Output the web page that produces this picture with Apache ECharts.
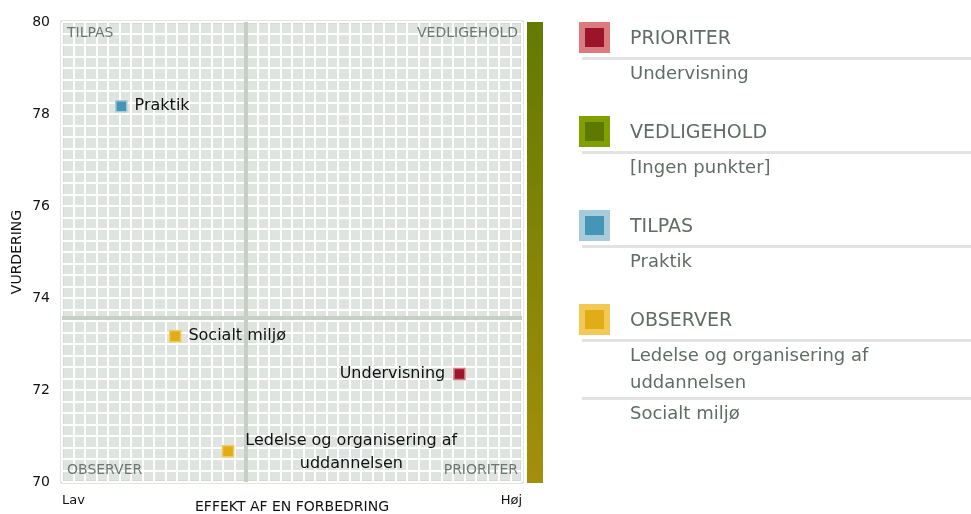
<!DOCTYPE html>
<html>
<head>
<meta charset="utf-8">
<script src="https://cdn.jsdelivr.net/npm/echarts@6/dist/echarts.min.js"></script>
<style>
html,body{margin:0;padding:0;background:#fff;}
#main{width:971px;height:514px;}
</style>
</head>
<body>
<div id="main"></div>
<script>
// ---- data ----
const quadrants = ['PRIORITER', 'VEDLIGEHOLD', 'TILPAS', 'OBSERVER'];
const itemNames = ['Undervisning', 'Praktik', 'Ledelse og organisering af uddannelsen', 'Socialt miljø'];
const effekt = [86.4, 12.9, 36.1, 24.6];
const vurdering = [72.35, 78.17, 70.67, 73.17];
const itemQuadrant = ['PRIORITER', 'TILPAS', 'OBSERVER', 'OBSERVER'];
const effektSplit = [40];
const vurderingSplit = [73.57];
const yTickLabels = [70, 72, 74, 76, 78, 80];
const xTickLabels = ['Lav', 'Høj'];
const emptyText = '[Ingen punkter]';

// ---- styles ----
const FONT = 'DejaVu Sans';
const qColors = {
  PRIORITER: { inner: '#9c1429', outer: '#da7b7d' },
  VEDLIGEHOLD: { inner: '#5e7800', outer: '#7fa000' },
  TILPAS: { inner: '#4596b6', outer: '#a6cbda' },
  OBSERVER: { inner: '#e0ac17', outer: '#f2c955' }
};
const labelStyle = {
  'Undervisning': { position: 'left', distance: 8 },
  'Praktik': { position: 'right', distance: 7 },
  'Socialt miljø': { position: 'right', distance: 7 },
  'Ledelse og organisering af uddannelsen': { position: 'right', distance: 0, align: 'center', offset: [117, 1], wrap: 'Ledelse og organisering af\nuddannelsen' }
};

const chart = echarts.init(document.getElementById('main'), null, { renderer: 'canvas' });

const series = quadrants.map(function (q, qi) {
  const data = [];
  itemNames.forEach(function (n, i) {
    if (itemQuadrant[i] !== q) return;
    const ls = labelStyle[n] || { position: 'right' };
    data.push({
      name: n,
      value: [effekt[i], vurdering[i]],
      label: {
        show: true,
        position: ls.position,
        distance: ls.distance,
        align: ls.align,
        offset: ls.offset,
        formatter: ls.wrap || n,
        color: '#111',
        fontFamily: FONT,
        fontSize: 16,
        lineHeight: 23
      }
    });
  });
  const s = {
    type: 'scatter',
    name: q,
    symbol: 'rect',
    symbolSize: 11,
    itemStyle: { color: qColors[q].inner, borderColor: qColors[q].outer, borderWidth: 1.5, opacity: 1 },
    data: data,
    z: 5
  };
  if (qi === 0) {
    s.markLine = {
      silent: true,
      symbol: 'none',
      label: { show: false },
      emphasis: { disabled: true },
      lineStyle: { color: '#c5cfc6', width: 4, type: 'solid', opacity: 1 },
      data: effektSplit.map(v => ({ xAxis: v })).concat(vurderingSplit.map(v => ({ yAxis: v }))),
      z: 2
    };
  }
  return s;
});

// legend panel built from the arrays
const graphics = [];
const qlabelStyle = { fill: '#6b7a71', fontFamily: FONT, fontSize: 14 };
graphics.push({ type: 'text', left: 67, top: 26, style: Object.assign({ text: 'TILPAS' }, qlabelStyle), z: 10 });
graphics.push({ type: 'text', right: 971 - 518, top: 26, style: Object.assign({ text: 'VEDLIGEHOLD' }, qlabelStyle), z: 10 });
graphics.push({ type: 'text', left: 67, top: 463, style: Object.assign({ text: 'OBSERVER' }, qlabelStyle), z: 10 });
graphics.push({ type: 'text', right: 971 - 518, top: 463, style: Object.assign({ text: 'PRIORITER' }, qlabelStyle), z: 10 });
// gradient bar
graphics.push({
  type: 'rect', left: 527, top: 22, shape: { width: 16, height: 461 },
  style: { fill: new echarts.graphic.LinearGradient(0, 0, 0, 1, [{ offset: 0, color: '#637a00' }, { offset: 1, color: '#a48f0c' }]) }
});

let legTop = 22;
const legTextColor = '#5f6d65';
quadrants.forEach(function (q) {
  graphics.push({ type: 'rect', left: 579, top: legTop, shape: { width: 31, height: 31 }, style: { fill: qColors[q].outer } });
  graphics.push({ type: 'rect', left: 585, top: legTop + 6, shape: { width: 19, height: 19 }, style: { fill: qColors[q].inner } });
  graphics.push({ type: 'text', left: 630, top: legTop + 8, style: { text: q, fill: legTextColor, fontFamily: FONT, fontSize: 19 } });
  graphics.push({ type: 'rect', left: 582, top: legTop + 35, shape: { width: 389, height: 3 }, style: { fill: '#e3e3e3' } });
  let names = itemNames.filter((n, i) => itemQuadrant[i] === q);
  if (names.length === 0) names = [emptyText];
  let cy = legTop + 53;
  names.forEach(function (n, k) {
    const lines = n === 'Ledelse og organisering af uddannelsen' ? ['Ledelse og organisering af', 'uddannelsen'] : [n];
    lines.forEach(function (ln, li) {
      graphics.push({ type: 'text', left: 630, top: cy + li * 27 - 10, style: { text: ln, fill: legTextColor, fontFamily: FONT, fontSize: 18 } });
    });
    const lastC = cy + (lines.length - 1) * 27;
    if (k < names.length - 1) {
      graphics.push({ type: 'rect', left: 582, top: lastC + 13, shape: { width: 389, height: 3 }, style: { fill: '#e3e3e3' } });
    }
    cy = lastC + 31;
  });
  legTop = cy - 31 + 41;
});

const option = {
  backgroundColor: '#fff',
  animation: false,
  textStyle: { fontFamily: FONT },
  grid: {
    left: 62, top: 22, width: 460, height: 460,
    outerBoundsMode: 'none',
    show: true, backgroundColor: '#dfe4e1', borderColor: '#c5cfc6', borderWidth: 3, containLabel: false
  },
  xAxis: {
    type: 'value', min: 0, max: 100, interval: 2.5,
    name: 'EFFEKT AF EN FORBEDRING', nameLocation: 'middle', nameGap: 18, nameMoveOverlap: false,
    nameTextStyle: { color: '#111', fontFamily: FONT, fontSize: 14 },
    axisLine: { show: false }, axisTick: { show: false },
    axisLabel: {
      color: '#111', fontFamily: FONT, fontSize: 13, margin: 12,
      showMinLabel: true, showMaxLabel: true,
      alignMinLabel: 'left', alignMaxLabel: 'right',
      formatter: function (v) { return v === 0 ? xTickLabels[0] : (v === 100 ? xTickLabels[1] : ''); }
    },
    splitLine: { show: true, lineStyle: { color: '#ffffff', width: 2 } }
  },
  yAxis: {
    type: 'value', min: 70, max: 80, interval: 0.25,
    name: 'VURDERING', nameLocation: 'middle', nameGap: 38, nameRotate: 90, nameMoveOverlap: false,
    nameTextStyle: { color: '#111', fontFamily: FONT, fontSize: 14 },
    axisLine: { show: false }, axisTick: { show: false },
    axisLabel: {
      color: '#111', fontFamily: FONT, fontSize: 14, margin: 12,
      formatter: function (v) { const r = Math.round(v); return (Math.abs(v - r) < 1e-6 && yTickLabels.indexOf(r) >= 0) ? String(r) : ''; }
    },
    splitLine: { show: true, lineStyle: { color: '#ffffff', width: 2 } }
  },
  graphic: graphics,
  series: series
};
chart.setOption(option);
</script>
</body>
</html>
